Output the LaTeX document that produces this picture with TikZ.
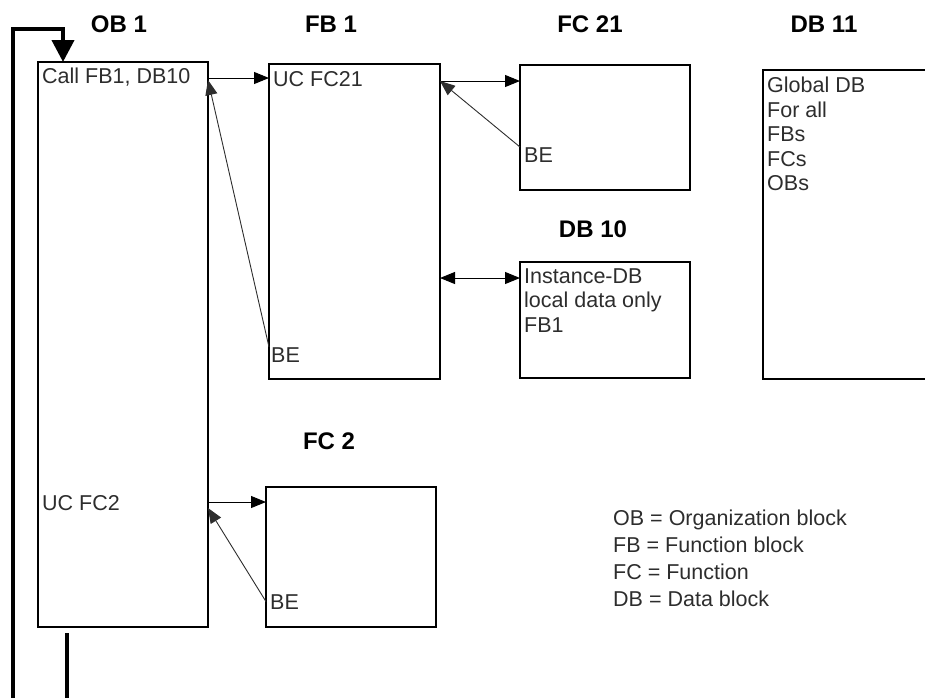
\documentclass[tikz,border=0pt]{standalone}
\usepackage{fontspec}
\setmainfont{Liberation Sans}
\usetikzlibrary{arrows.meta, positioning, calc}
\definecolor{inkgray}{RGB}{45, 45, 45}

\begin{document}
\begin{tikzpicture}[x=1pt, y=-1pt, >={Triangle[length=15pt, width=12pt]},
    blk/.style={rectangle, draw, line width=1.6pt, anchor=north west, inner sep=0pt, outer sep=0pt},
    ttl/.style={anchor=base, inner sep=0pt, font=\fontsize{24}{28}\selectfont\bfseries},
    txt/.style={anchor=base west, inner sep=0pt, text=inkgray, align=left, font=\fontsize{21.5}{24.5}\selectfont},
    call/.style={->, line width=1pt},
    ret/.style={->, line width=0.9pt, draw=inkgray},
    loopline/.style={line width=4pt, line join=miter}]
    \useasboundingbox (0,0) rectangle (925,697);
    \clip (0,0) rectangle (925,697);

    % blocks
    \node[blk, minimum width=170, minimum height=565] (ob1) at (38,62) {};
    \node[blk, minimum width=171, minimum height=315] (fb1) at (269,64) {};
    \node[blk, minimum width=170, minimum height=125] (fc21) at (520,65) {};
    \node[blk, minimum width=170, minimum height=116] (db10) at (520,262) {};
    \node[blk, minimum width=200, minimum height=309] (db11) at (763,70) {};
    \node[blk, minimum width=170, minimum height=140] (fc2) at (266,487) {};

    % titles
    \node[ttl] (ob1ttl) at (119,32) {OB 1};
    \node[ttl] (fb1ttl) at (331,32) {FB 1};
    \node[ttl] (fc21ttl) at (590,32) {FC 21};
    \node[ttl] (db11ttl) at (824,32) {DB 11};
    \node[ttl] (db10ttl) at (593,237) {DB 10};
    \node[ttl] (fc2ttl) at (329,449) {FC 2};

    % block contents
    \node[txt] (ob1call) at (42,83) {Call FB1, DB10};
    \node[txt] (ob1uc) at (42,510) {UC FC2};
    \node[txt] (fb1uc) at (273,86) {UC FC21};
    \node[txt] (fb1be) at (271,362) {BE};
    \node[txt] (fc21be) at (524,162) {BE};
    \node[txt] (fc2be) at (270,609) {BE};
    \node[txt, anchor=north west] (db10txt) at (524,268) {Instance-DB\\local data only\\FB1};
    \node[txt, anchor=north west] (db11txt) at (767,77) {Global DB\\For all\\FBs\\FCs\\OBs};
    \node[txt, anchor=north west, font=\fontsize{21.5}{27}\selectfont] (legend) at (613,510)
      {OB = Organization block\\FB = Function block\\FC = Function\\DB = Data block};

    % calls and returns
    \coordinate (fb1port) at ($(ob1.north east)+(0,16)$);
    \coordinate (fc21port) at ($(fb1.north east)+(0,17)$);
    \coordinate (db10port) at ($(db10.north west)+(0,16)$);
    \coordinate (fc2port) at ($(fc2.north west)+(0,15)$);
    \draw[call] (fb1port) -- (fb1port -| fb1.west);
    \draw[ret] (fb1.west |- fb1be.north) -- ($(ob1.north east)+(0,18)$);
    \draw[call] (fc21port) -- (fc21port -| fc21.west);
    \draw[ret] (fc21.west |- fc21be.north) -- (fc21port);
    \draw[call, <->] (fb1.east |- db10port) -- (db10port);
    \draw[call] (ob1.east |- fc2port) -- (fc2port);
    \draw[ret] (fc2.west |- fc2be.center) -- ($(ob1.east |- fc2port)+(0,6)$);

    % cycle loop
    \coordinate (loopin) at (13,700);
    \coordinate (loopout) at ($(ob1.south west)+(29,6)$);
    \draw[loopline, -{Triangle[length=22pt, width=22pt]}] (loopin) |- ($(ob1.north west)+(25,-33)$)
      -- ($(ob1.north west)+(25,0)$);
    \draw[loopline] (loopout) -- ++(0,75);
  \end{tikzpicture}
\end{document}
